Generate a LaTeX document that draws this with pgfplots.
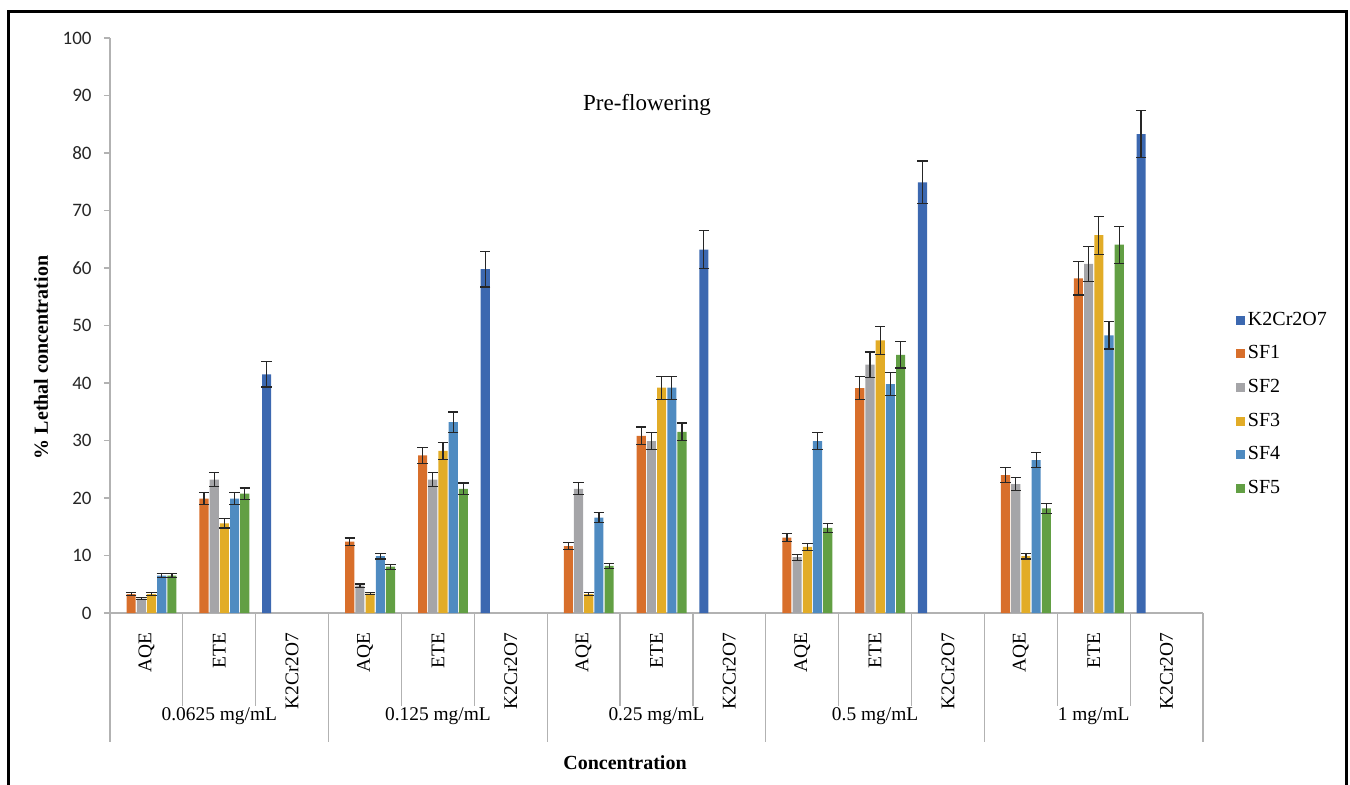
\documentclass[border=0pt]{standalone}
\usepackage{fontspec}
\setmainfont{Liberation Serif}
\newfontfamily\carlito{Carlito}
\usepackage{pgfplots}
\pgfplotsset{compat=1.18}
\usepackage{pgfplotstable}

\definecolor{cK}{HTML}{3C68B0}
\definecolor{cA}{HTML}{D86F2B}
\definecolor{cB}{HTML}{A5A5A8}
\definecolor{cC}{HTML}{E2AC27}
\definecolor{cD}{HTML}{4F8BC1}
\definecolor{cE}{HTML}{629F44}

\pgfplotstableread{
x y e
2 41.5 2.2
5 59.8 3.1
8 63.2 3.3
11 74.9 3.7
14 83.3 4.15
}\tK
\pgfplotstableread{
x y e
0 3.3 0.3
1 19.9 1.0
3 12.4 0.65
4 27.4 1.35
6 11.65 0.6
7 30.8 1.55
9 13.1 0.7
10 39.1 2.0
12 24.0 1.25
13 58.2 2.9
}\tA
\pgfplotstableread{
x y e
0 2.5 0.2
1 23.2 1.2
3 4.75 0.3
4 23.2 1.2
6 21.6 1.05
7 29.9 1.5
9 9.7 0.5
10 43.2 2.2
12 22.4 1.1
13 60.7 3.0
}\tB
\pgfplotstableread{
x y e
0 3.3 0.3
1 15.6 0.8
3 3.35 0.2
4 28.2 1.45
6 3.3 0.2
7 39.2 2.0
9 11.5 0.6
10 47.4 2.4
12 9.9 0.5
13 65.7 3.3
}\tC
\pgfplotstableread{
x y e
0 6.5 0.35
1 19.9 1.0
3 9.9 0.5
4 33.2 1.75
6 16.6 0.85
7 39.2 2.0
9 29.9 1.5
10 39.8 2.0
12 26.6 1.35
13 48.3 2.4
}\tD
\pgfplotstableread{
x y e
0 6.5 0.35
1 20.75 1.0
3 8.05 0.45
4 21.6 1.0
6 8.2 0.4
7 31.5 1.55
9 14.8 0.8
10 44.9 2.3
12 18.2 0.9
13 64.05 3.2
}\tE

\pgfplotsset{
  ebar/.style={error bars/.cd, y dir=both, y explicit,
    error bar style={black!85, line width=0.6pt},
    error mark options={black!85, line width=0.6pt, mark size=2.6pt, rotate=90}}
}

\begin{document}
\begin{tikzpicture}
\useasboundingbox (-55pt,-85.5pt) rectangle (620pt,306.5pt);
\draw[line width=1.5pt, black] (-50.9pt,-100pt) -- (-50.9pt,300.9pt) -- (618.1pt,300.9pt) -- (618.1pt,-100pt);
\begin{axis}[
  scale only axis, width=546.5pt, height=287.5pt,
  at={(0pt,0pt)}, anchor=south west,
  xmin=-0.5, xmax=14.5, ymin=0, ymax=100,
  ytick={0,10,...,100},
  xtick={0,...,14},
  xticklabels={AQE,ETE,K2Cr2O7,AQE,ETE,K2Cr2O7,AQE,ETE,K2Cr2O7,AQE,ETE,K2Cr2O7,AQE,ETE,K2Cr2O7},
  xticklabel style={rotate=90, anchor=east, font=\fontsize{9.7}{11}\selectfont, inner xsep=7pt, inner ysep=0pt, outer sep=0pt},
  xtick style={draw=none},
  axis x line*=bottom, axis y line*=left,
  axis line style={draw=gray!60, line width=0.6pt, -},
  ytick style={draw=gray!60, line width=0.6pt},
  tick align=outside, major tick length=3pt,
  yticklabel style={font=\carlito\fontsize{9.5}{11}\selectfont, color=black!85, anchor=east, inner sep=0pt, xshift=-6pt},
  /pgf/number format/assume math mode=true,
  ybar, bar width=0.125,
  clip=false,
  legend image code/.code={\fill[#1, draw=none] (0pt,-2.2pt) rectangle (4.4pt,2.2pt);},
  legend style={at={(1.03,0.363)}, anchor=west, draw=none, fill=none,
    font=\fontsize{10}{12}\selectfont, row sep=5.7pt, inner sep=0pt,
    nodes={inner sep=1.5pt, anchor=west}},
]
\addplot[fill=cK, draw=none, bar shift=-0.35, ebar] table[x=x,y=y,y error=e]{\tK};
\addplot[fill=cA, draw=none, bar shift=-0.21, ebar] table[x=x,y=y,y error=e]{\tA};
\addplot[fill=cB, draw=none, bar shift=-0.07, ebar] table[x=x,y=y,y error=e]{\tB};
\addplot[fill=cC, draw=none, bar shift=0.07, ebar] table[x=x,y=y,y error=e]{\tC};
\addplot[fill=cD, draw=none, bar shift=0.21, ebar] table[x=x,y=y,y error=e]{\tD};
\addplot[fill=cE, draw=none, bar shift=0.35, ebar] table[x=x,y=y,y error=e]{\tE};
\legend{K2Cr2O7,SF1,SF2,SF3,SF4,SF5}
\end{axis}
\foreach \k in {1,2,4,5,7,8,10,11,13,14}
  \draw[gray!60, line width=0.6pt] (\k*36.4333pt,0pt) -- ++(0pt,-46.5pt);
\foreach \k in {0,3,6,9,12,15}
  \draw[gray!60, line width=0.6pt] (\k*36.4333pt,0pt) -- ++(0pt,-64.5pt);
\foreach \k/\t in {0/{0.0625 mg/mL},1/{0.125 mg/mL},2/{0.25 mg/mL},3/{0.5 mg/mL},4/{1 mg/mL}}
  \node[font=\fontsize{9.7}{11}\selectfont] at ({(3*\k+1.5)*36.4333pt},-51.5pt) {\t};
\node[font=\fontsize{11.5}{13}\selectfont] at (268.5pt,254pt) {Pre-flowering};
\node[font=\bfseries\fontsize{10}{12}\selectfont, rotate=90] at (-34.5pt,127.75pt) {\% Lethal concentration};
\node[font=\bfseries\fontsize{10}{12}\selectfont] at (257.5pt,-75pt) {Concentration};
\end{tikzpicture}
\end{document}
